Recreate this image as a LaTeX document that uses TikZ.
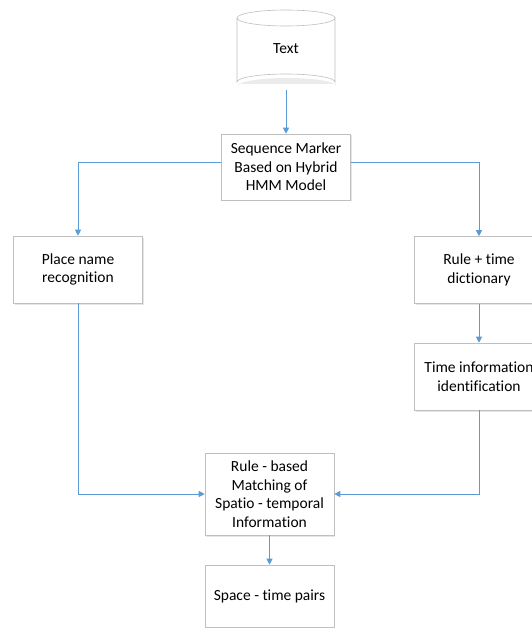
\documentclass[tikz,border=0pt]{standalone}
\usepackage{fontspec}
\setmainfont[Ligatures={NoCommon}]{Carlito}
\usetikzlibrary{arrows.meta,shadows}
\definecolor{lineblue}{HTML}{5B9BD5}
\definecolor{boxgray}{HTML}{BFBFBF}
\begin{document}
\begin{tikzpicture}[x=1pt,y=-1pt,
  box/.style={draw=boxgray, line width=0.6pt, fill=white, minimum width=129pt, minimum height=67pt,
    align=center, font=\fontsize{15.5}{18.5}\selectfont, inner sep=2pt,
    drop shadow={shadow xshift=1pt, shadow yshift=-1.5pt, opacity=0.25, fill=black!40}},
  conn/.style={draw=lineblue, line width=0.8pt, -{Triangle[length=6pt,width=6pt]}}]
\useasboundingbox (0,0) rectangle (531,628);
% cylinder
\fill[black!8] (238,84) -- (238,86) arc[start angle=180,end angle=360,x radius=49,y radius=8] -- (336,84) -- cycle;
\filldraw[draw=boxgray, fill=white, line width=0.6pt] (237,18) -- (237,82) arc[start angle=180,end angle=360,x radius=49,y radius=8] -- (335,18) arc[start angle=0,end angle=180,x radius=49,y radius=8];
\draw[boxgray, line width=0.6pt] (237,18) arc[start angle=180,end angle=360,x radius=49,y radius=8];
\node[font=\fontsize{15.5}{18.5}\selectfont] (text) at (286,49) {Text};
\coordinate (cylbot) at (286,90);
% boxes
\node[box, minimum height=66pt] (seq) at (286,167) {Sequence Marker\\Based on Hybrid\\HMM Model};
\node[box] (place) at (78,269.5) {Place name\\recognition};
\node[box] (rule) at (479,270) {Rule + time\\dictionary};
\node[box] (tinfo) at (479,376.5) {Time information\\identification};
\node[box, minimum height=82pt] (match) at (269.5,494) {Rule - based\\Matching of\\Spatio - temporal\\Information};
\node[box, minimum height=62pt] (space) at (269.5,596) {Space - time pairs};
% connectors
\draw[conn] (cylbot) -- (seq.north);
\draw[conn] (seq.west |- 0,162) -| (place.north);
\draw[conn] (seq.east |- 0,162) -| (rule.north);
\draw[conn] (rule.south) -- (tinfo.north);
\draw[conn] (place.south) |- (match.west);
\draw[conn] (tinfo.south) |- (match.east);
\draw[conn] (match.south) -- (space.north);
\end{tikzpicture}
\end{document}
